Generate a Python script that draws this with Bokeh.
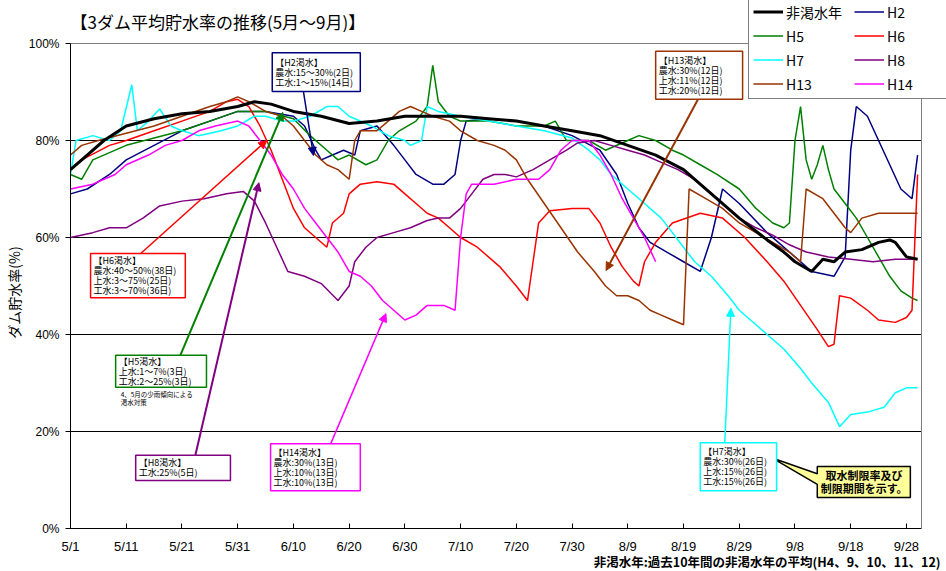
from bokeh.plotting import figure
from bokeh.models import (Range1d, FixedTicker, Legend, LegendItem, Label,
                          BoxAnnotation, Arrow, NormalHead, Title)
from bokeh.embed import file_html
from bokeh.resources import INLINE

# ---------------- data (day 0 = 5/1) ----------------
tick_days = [0, 10, 20, 30, 40, 50, 60, 70, 80, 90, 100, 110, 120, 130, 140, 150]
tick_labels = ["5/1", "5/11", "5/21", "5/31", "6/10", "6/20", "6/30", "7/10",
               "7/20", "7/30", "8/9", "8/19", "8/29", "9/8", "9/18", "9/28"]
y_ticks = [0, 20, 40, 60, 80, 100]
y_labels = ["0%", "20%", "40%", "60%", "80%", "100%"]
last_day = 152.7  # right edge of the plotting box (9/30 is day 152)

normal_d = [0, 3, 6, 10, 15, 20, 25, 30, 33, 36, 40, 45, 50, 55, 60, 65, 70, 75, 80, 85,
            90, 95, 100, 105, 110, 115, 120, 125, 128, 130, 133, 135, 137, 139, 142, 145, 147, 148, 150, 152]
normal_v = [74, 77, 80, 83, 84.5, 85.5, 86, 87, 88, 87.5, 86, 85, 83.5, 84, 85, 85, 85, 84.5, 84, 83,
            82, 81, 79, 77, 74, 69, 64, 59.5, 57, 55, 53, 55.5, 55, 57, 57.5, 59, 59.5, 59, 56, 55.5]

h2_d = [0, 3, 7, 10, 15, 20, 25, 30, 35, 40, 42, 44, 45, 47, 49, 51, 52, 55, 58, 60,
        62, 65, 67, 69, 70, 71, 75, 80, 85, 90, 95, 98, 100, 102, 104, 107, 110, 113, 115, 117,
        120, 125, 130, 133, 137, 139, 140, 141, 143, 145, 147, 149, 151, 152]
h2_v = [69, 70, 73, 76, 79, 82, 84, 86, 86, 85, 83, 78, 76, 77, 78, 77, 82, 83, 79, 76,
        73, 71, 71, 73, 80, 84, 84.5, 84, 83, 81, 78, 73, 67, 62, 59, 57, 55, 53, 60, 70,
        67, 61, 56, 53, 52, 56, 78, 87, 85, 80, 75, 70, 68, 77]

h5_d = [0, 2, 4, 10, 15, 20, 25, 30, 35, 40, 43, 46, 48, 50, 53, 55, 57, 59, 62, 64,
        65, 66, 68, 70, 75, 80, 85, 87, 89, 93, 96, 100, 102, 105, 108, 110, 113, 116, 120, 123,
        126, 128, 129, 130, 131, 132, 133, 134, 135, 136, 137, 139, 141, 143, 145, 147, 149, 151, 152]
h5_v = [73, 72, 76, 79, 80.5, 82, 84, 86, 86, 84.5, 81, 78, 76, 77, 75, 76, 80, 82, 84, 87,
        95.5, 88, 85, 84, 84, 83, 83, 84, 80, 80, 78, 80, 81, 80, 78, 77, 75, 73, 70, 66,
        63, 62, 63, 80, 87, 76, 72, 75, 79, 74, 70, 67, 64, 60, 56, 52, 49, 47.5, 47]

h6_d = [0, 2, 7, 10, 15, 20, 25, 28, 30, 32, 34, 36, 38, 40, 42, 44, 46, 47, 49, 50,
        52, 55, 58, 60, 62, 64, 66, 68, 70, 73, 77, 80, 82, 83, 84, 86, 90, 93, 95, 97,
        99, 101, 102, 103, 105, 108, 113, 117, 121, 125, 128, 131, 134, 136, 137, 138, 140, 143, 145, 148,
        150, 151, 152]
h6_v = [74, 76, 79, 80, 82, 84, 86, 88, 88.5, 87, 83, 78, 72, 66, 62, 60, 58, 63, 65, 69,
        71, 71.5, 71, 69, 67, 65, 64, 62, 60, 58, 54, 50, 47, 55, 63, 65.5, 66, 66, 63, 58,
        54, 51, 50, 55, 59, 63, 65, 64, 60, 55, 51, 46, 41, 37.5, 38, 48, 47.5, 45, 43, 42.5,
        43.5, 45, 73]

h7_d = [0, 1, 4, 7, 9, 11, 12, 14, 16, 18, 20, 23, 27, 30, 33, 35, 38, 40, 43, 46,
        48, 50, 54, 57, 60, 61, 63, 64, 66, 70, 75, 80, 85, 90, 93, 95, 97, 100, 103, 106,
        108, 110, 112, 115, 118, 120, 123, 125, 128, 131, 133, 136, 138, 140, 143, 146, 148, 150, 152]
h7_v = [73, 80, 81, 80, 82, 91.5, 82, 84, 86.5, 83, 82, 81, 82, 83, 85, 85, 84, 84, 85, 87,
        87, 85, 83, 81, 80, 79, 80, 87, 86, 85, 84, 83, 82, 80.5, 78, 76, 73, 70, 67, 64,
        61, 58, 55, 52, 48, 45, 42, 40, 37, 33, 30, 26, 21, 23.5, 24, 25, 28, 29, 29]

h8_d = [0, 4, 7, 10, 13, 16, 20, 24, 28, 31, 33, 35, 37, 39, 42, 45, 48, 50, 51, 53,
        55, 58, 61, 64, 66, 68, 70, 72, 74, 76, 78, 80, 83, 86, 89, 91, 94, 97, 100, 103,
        106, 109, 112, 114, 117, 120, 123, 126, 129, 132, 136, 140, 144, 148, 152]
h8_v = [60, 61, 62, 62, 64, 66.5, 67.5, 68, 69, 69.5, 67.5, 63, 58, 53, 52, 50.5, 47, 50, 55, 58,
        60, 61, 62, 63.5, 64, 64, 66, 69, 72, 73, 73, 72.5, 74, 76, 78, 79.5, 80, 79, 78, 77,
        75.5, 74, 72, 70, 67, 64, 62, 60.5, 58.5, 57, 56, 55.5, 55, 55.5, 55.5]

h13_d = [0, 2, 5, 10, 15, 20, 25, 28, 30, 32, 35, 38, 40, 42, 44, 46, 48, 50, 51, 52,
         55, 57, 59, 61, 63, 65, 68, 70, 73, 76, 78, 80, 82, 85, 88, 91, 94, 96, 98, 100,
         102, 104, 106, 108, 110, 111, 114, 117, 120, 123, 126, 129, 131, 132, 135, 137, 139, 140, 142, 145,
         148, 152]
h13_v = [77, 79, 80, 81.5, 83, 85, 87, 88, 89, 88, 86, 85, 83, 80, 77, 75, 74, 72, 80, 82,
         82, 84, 86, 87, 86, 85, 84, 82, 80, 79, 78, 76, 72, 67, 62, 57, 53, 50, 48, 48,
         47, 45, 44, 43, 42, 70, 68, 66, 63, 61, 59, 57, 55, 70, 68, 65, 62, 61, 64, 65,
         65, 65]

h14_d = [0, 4, 8, 10, 14, 17, 20, 23, 26, 30, 32, 34, 36, 38, 40, 42, 44, 46, 48, 50,
         52, 54, 56, 58, 60, 62, 64, 67, 69, 70, 71, 72, 76, 80, 84, 86, 88, 90, 93, 95,
         97, 99, 101, 103, 105]
h14_v = [70, 71, 73, 75, 77, 79, 80, 82, 83, 84, 83, 80, 77, 73, 70, 66, 63, 60, 57, 53,
         52, 50, 47, 45, 43, 44, 46, 46, 45, 60, 69, 71, 71, 72, 72, 74, 78, 80, 80, 77,
         73, 68, 64, 60, 55]

series_names = ["非渇水年", "H2", "H5", "H6", "H7", "H8", "H13", "H14"]

# ---------------- figure ----------------
JP = "Noto Sans CJK JP"
LAT = "Liberation Sans"
PX_PER_DAY = 851 / last_day
PX_PER_PCT = 4.85
FRAME_W, FRAME_H = 876, 528

p = figure(width=946, height=571,
           x_range=Range1d(0, FRAME_W / PX_PER_DAY), y_range=Range1d(0, FRAME_H / PX_PER_PCT),
           output_backend="svg", toolbar_location=None,
           min_border_left=70, min_border_right=0, min_border_top=0, min_border_bottom=43,
           background_fill_color="white", border_fill_color="white")
p.outline_line_color = None
p.xgrid.visible = False
p.ygrid.visible = False

# grid lines and box edges limited to the plotting box
grid_vals = y_ticks[1:-1]
p.segment(x0=[0] * len(grid_vals), y0=grid_vals, x1=[last_day] * len(grid_vals), y1=grid_vals,
          line_color="black", line_width=1)
p.segment(x0=[0, last_day], y0=[100, 0], x1=[last_day, last_day], y1=[100, 100],
          line_color="#808080", line_width=1)

p.xaxis.ticker = FixedTicker(ticks=tick_days)
p.xaxis.major_label_overrides = dict(zip(tick_days, tick_labels))
p.xaxis.bounds = (0, last_day)
p.xaxis.major_tick_in = 5
p.xaxis.major_tick_out = 0
p.xaxis.minor_tick_line_color = None
p.xaxis.major_label_standoff = 10
p.xaxis.major_label_text_font = LAT
p.xaxis.major_label_text_font_size = "13px"
p.xaxis.major_label_text_color = "black"
p.xaxis.axis_line_color = "black"
p.xaxis.major_tick_line_color = "black"

p.yaxis.ticker = FixedTicker(ticks=y_ticks)
p.yaxis.major_label_overrides = dict(zip(y_ticks, y_labels))
p.yaxis.bounds = (0, 100)
p.yaxis.major_tick_in = 0
p.yaxis.major_tick_out = 5
p.yaxis.minor_tick_line_color = None
p.yaxis.major_label_standoff = 6
p.yaxis.major_label_text_font = LAT
p.yaxis.major_label_text_font_size = "12px"
p.yaxis.major_label_text_color = "black"
p.yaxis.axis_line_color = "black"
p.yaxis.major_tick_line_color = "black"
# trailing ideographic spaces move the centred label down to the middle of 0-100%
p.yaxis.axis_label = "ダム貯水率(%)" + "\u3000" * 4
p.yaxis.axis_label_text_font = JP
p.yaxis.axis_label_text_font_size = "14px"
p.yaxis.axis_label_text_font_style = "normal"
p.yaxis.axis_label_text_color = "black"
p.yaxis.axis_label_standoff = 2

styles = {
    "非渇水年": ("black", 3),
    "H2": ("#000080", 1.5),
    "H5": ("#008000", 1.5),
    "H6": ("#FF0000", 1.5),
    "H7": ("#00FFFF", 1.5),
    "H8": ("#800080", 1.5),
    "H13": ("#993300", 1.5),
    "H14": ("#FF00FF", 1.5),
}
series = {
    "非渇水年": (normal_d, normal_v),
    "H2": (h2_d, h2_v),
    "H5": (h5_d, h5_v),
    "H6": (h6_d, h6_v),
    "H7": (h7_d, h7_v),
    "H8": (h8_d, h8_v),
    "H13": (h13_d, h13_v),
    "H14": (h14_d, h14_v),
}
renderers = {}
for name in ["H2", "H5", "H6", "H7", "H8", "H13", "H14", "非渇水年"]:
    d, v = series[name]
    c, w = styles[name]
    renderers[name] = p.line(d, v, line_color=c, line_width=w)

legend = Legend(items=[LegendItem(label=n, renderers=[renderers[n]]) for n in series_names],
                location=(678, 429.5), orientation="horizontal", ncols=2,
                margin=0, padding=4, spacing=4,
                glyph_width=30, glyph_height=19, label_height=19, label_width=64,
                label_standoff=3, label_text_font=JP, label_text_font_size="14px",
                label_text_color="black",
                border_line_color="black", border_line_width=1,
                background_fill_color="white", background_fill_alpha=1)
p.add_layout(legend, "center")

# ---------------- annotations ----------------
boxes = [
    # (left, right, top, bottom, color, lines)
    (36.2, 52.0, 98.1, 90.1, "#000080", ["【H2渇水】", "農水:15～30%(2日)", "工水:1～15%(14日)"]),
    (105.0, 120.6, 98.4, 88.5, "#993300", ["【H13渇水】", "農水:30%(12日)", "上水:11%(12日)", "工水:20%(12日)"]),
    (3.6, 20.6, 56.7, 47.6, "#FF0000", ["【H6渇水】", "農水:40～50%(38日)", "上水:3～75%(25日)", "工水:3～70%(36日)"]),
    (8.1, 24.4, 35.7, 29.1, "#008000", ["【H5渇水】", "上水:1～7%(3日)", "工水:2～25%(3日)"]),
    (11.7, 28.7, 15.1, 9.9, "#800080", ["【H8渇水】", "工水:25%(5日)"]),
    (35.9, 52.0, 17.5, 7.8, "#FF00FF", ["【H14渇水】", "農水:30%(13日)", "上水:10%(13日)", "工水:10%(13日)"]),
    (113.0, 126.7, 17.7, 7.8, "#00FFFF", ["【H7渇水】", "農水:30%(26日)", "上水:15%(26日)", "工水:15%(26日)"]),
]
arrows = [
    ((41.8, 90.1), (43.6, 76.9), "#000080", 1.5),
    ((112.6, 88.5), (96.1, 53.2), "#993300", 2),
    ((12.6, 56.7), (35.2, 80.0), "#FF0000", 1.5),
    ((19.7, 35.7), (38.1, 85.8), "#008000", 2),
    ((22.4, 15.1), (33.8, 71.3), "#800080", 2),
    ((46.7, 17.5), (56.6, 44.3), "#FF00FF", 1.5),
    ((117.4, 17.7), (118.5, 45.4), "#00FFFF", 1.5),
]
for (x0, y0), (x1, y1), c, w in arrows:
    p.add_layout(Arrow(x_start=x0, y_start=y0, x_end=x1, y_end=y1, line_color=c, line_width=w,
                       end=NormalHead(size=8, fill_color=c, line_color=c)))

LINE_PX = 10
for l, r, t, b, c, lines in boxes:
    p.add_layout(BoxAnnotation(left=l, right=r, top=t, bottom=b, fill_color="white", fill_alpha=1,
                               line_color=c, line_width=1.5, line_alpha=1))
for l, r, t, b, c, lines in boxes:
    mid = (t + b) / 2
    n = len(lines)
    for i, txt in enumerate(lines):
        p.add_layout(Label(x=l, y=mid, x_offset=3, y_offset=-(i - (n - 1) / 2) * LINE_PX,
                           text=txt, text_font=JP, text_font_size="9px",
                           text_baseline="middle", text_align="left", text_color="black"))

for i, txt in enumerate(["4、5月の少雨傾向による", "渇水対策"]):
    p.add_layout(Label(x=9.0, y=27.8, y_offset=-8 * i, text=txt, text_font=JP,
                       text_font_size="6.5px", text_baseline="middle", text_color="black"))

# yellow callout
call_x = [125.8, 134.0, 134.0, 150.7, 150.7, 134.0, 134.0]
call_y = [14.6, 11.3, 12.8, 12.8, 6.4, 6.4, 9.1]
p.patch(call_x, call_y, fill_color="#FFFF99", line_color="black", line_width=1.5)
for i, txt in enumerate(["取水制限率及び", "制限期間を示す。"]):
    p.add_layout(Label(x=142.4, y=9.6, y_offset=(0.5 - i) * 13, text=txt, text_font=JP,
                       text_font_size="11px", text_font_style="bold", text_align="center",
                       text_baseline="middle", text_color="black"))

# chart title (inside the top band of the frame)
p.add_layout(Label(x=0, y=104.5, text="【3ダム平均貯水率の推移(5月～9月)】", text_font=JP,
                   text_font_size="17px", text_baseline="middle", text_color="black"))

# footnote below the axis
p.add_layout(Title(text="非渇水年:過去10年間の非渇水年の平均(H4、9、10、11、12)", align="right",
                   vertical_align="top", offset=6, standoff=-10, text_font=JP,
                   text_font_size="12.5px", text_font_style="bold", text_color="black"), "below")

open("out.html", "w").write(file_html(p, INLINE))
